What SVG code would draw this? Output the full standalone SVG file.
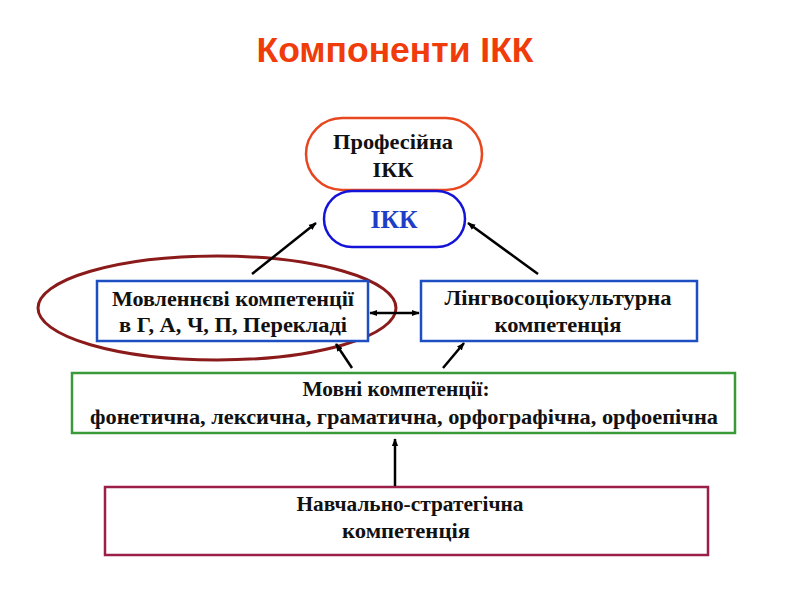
<svg xmlns="http://www.w3.org/2000/svg" width="800" height="600" viewBox="0 0 800 600">
<defs>
<marker id="ah" viewBox="0 0 10 10" refX="9" refY="5" markerWidth="8" markerHeight="8" orient="auto-start-reverse" markerUnits="userSpaceOnUse">
<path d="M0,1 L10,5 L0,9 z" fill="#000"/>
</marker>
<style>
.t{font-family:"Liberation Serif","Times New Roman",serif;font-weight:bold;font-size:21px;fill:#111;text-anchor:middle}
.c{stroke:#000;stroke-width:2.5;fill:none;marker-end:url(#ah)}
</style>
</defs>
<rect width="800" height="600" fill="#fff"/>
<text x="395" y="62" text-anchor="middle" font-family="Liberation Sans, Arial, sans-serif" font-weight="bold" font-size="35" fill="#F03C0A" textLength="277" lengthAdjust="spacingAndGlyphs">Компоненти ІКК</text>

<g id="prof">
<rect x="306" y="118" width="176" height="72" rx="36" fill="#fff" stroke="#E8461E" stroke-width="2.5"/>
<text class="t" x="393" y="149" textLength="120" lengthAdjust="spacingAndGlyphs">Професійна</text>
<text class="t" x="393" y="177" textLength="41" lengthAdjust="spacingAndGlyphs">ІКК</text>
</g>
<g id="ikk">
<rect x="324" y="191" width="141" height="56" rx="28" fill="#fff" stroke="#1414D8" stroke-width="2.5"/>
<text class="t" x="394" y="228" style="font-size:26px;fill:#1E3EC8" textLength="47" lengthAdjust="spacingAndGlyphs">ІКК</text>
</g>
<g id="ellipse">
<ellipse cx="217" cy="308" rx="179" ry="52" fill="none" stroke="#8B1A1A" stroke-width="3"/>
</g>
<g id="movl">
<rect x="97" y="281" width="271" height="60" fill="#fff" stroke="#1E4FC2" stroke-width="2.5"/>
<text class="t" x="233" y="306" textLength="242" lengthAdjust="spacingAndGlyphs">Мовленнєві компетенції</text>
<text class="t" x="233" y="332" textLength="228" lengthAdjust="spacingAndGlyphs">в Г, А, Ч, П, Перекладі</text>
</g>
<g id="lingvo">
<rect x="421" y="281" width="276" height="60" fill="#fff" stroke="#1E4FC2" stroke-width="2.5"/>
<text class="t" x="558" y="305" textLength="227" lengthAdjust="spacingAndGlyphs">Лінгвосоціокультурна</text>
<text class="t" x="558" y="332" textLength="127" lengthAdjust="spacingAndGlyphs">компетенція</text>
</g>
<g id="movni">
<rect x="72" y="373" width="663" height="60" fill="#fff" stroke="#3A9A3A" stroke-width="2.5"/>
<text class="t" x="396" y="396" textLength="187" lengthAdjust="spacingAndGlyphs">Мовні компетенції:</text>
<text class="t" x="404" y="424" textLength="628" lengthAdjust="spacingAndGlyphs">фонетична, лексична, граматична, орфографічна, орфоепічна</text>
</g>
<g id="navch">
<rect x="105" y="487" width="603" height="68" fill="#fff" stroke="#9C1F4A" stroke-width="2.5"/>
<text class="t" x="410" y="511" textLength="227" lengthAdjust="spacingAndGlyphs">Навчально-стратегічна</text>
<text class="t" x="406" y="538" textLength="128" lengthAdjust="spacingAndGlyphs">компетенція</text>
</g>
<g id="connectors">
<line class="c" x1="252" y1="274" x2="316" y2="223"/>
<line class="c" x1="538" y1="274" x2="468" y2="223"/>
<line class="c" x1="370" y1="313" x2="419" y2="313" style="marker-start:url(#ah)"/>
<line class="c" x1="352" y1="368" x2="336" y2="344"/>
<line class="c" x1="443" y1="368" x2="464" y2="343"/>
<line class="c" x1="395" y1="486" x2="395" y2="439"/>
</g>
</svg>
